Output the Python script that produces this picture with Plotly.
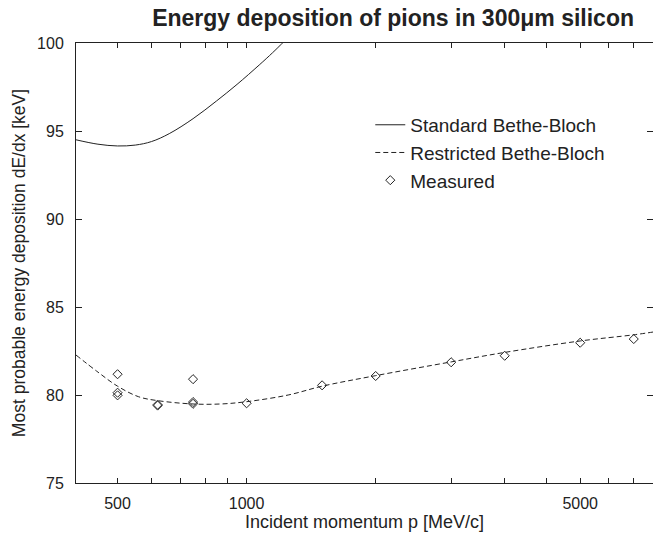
import plotly.graph_objects as go

# Standard Bethe-Bloch (solid)
p_std = [400, 450, 500, 550, 600, 660, 750, 850, 950, 1070, 1150, 1230]
de_std = [94.5, 94.25, 94.15, 94.2, 94.4, 94.85, 95.7, 96.7, 97.65, 98.75, 99.45, 100.15]

# Restricted Bethe-Bloch (dashed)
p_res = [400, 450, 500, 560, 620, 750, 870, 1000, 1250, 1500, 2000, 3000, 4000, 6000, 8000, 9000]
de_res = [82.27, 81.3, 80.5, 79.9, 79.68, 79.49, 79.49, 79.62, 80.0, 80.5, 81.1, 81.88, 82.42, 83.07, 83.42, 83.6]

# Measured points
p_meas = [500, 500, 500, 620, 620, 750, 750, 750, 1000, 1500, 2000, 3000, 4000, 6000, 8000]
de_meas = [81.18, 80.13, 79.98, 79.45, 79.40, 80.9, 79.6, 79.5, 79.53, 80.55, 81.08, 81.86, 82.23, 82.97, 83.18]

# Axis ticks
x_tickvals = [500, 600, 700, 800, 900, 1000, 2000, 3000, 4000, 5000, 6000, 7000, 8000]
x_ticktext = ['500', '', '', '', '', '1000', '', '', '', '', '5000', '', '']
y_tickvals = [75, 80, 85, 90, 95, 100]

FONT = "Liberation Sans, Arial, sans-serif"
INK = "#222"

fig = go.Figure()
fig.add_trace(go.Scatter(x=p_std, y=de_std, mode="lines", name="Standard Bethe-Bloch",
                         line=dict(color=INK, width=1, shape="spline", smoothing=1.0), legendgroup="a"))
fig.add_trace(go.Scatter(x=p_res, y=de_res, mode="lines", name="Restricted Bethe-Bloch",
                         line=dict(color=INK, width=1, dash="5px,3px", shape="spline"), legendgroup="b"))
fig.add_trace(go.Scatter(x=p_meas, y=de_meas, mode="markers", name="Measured",
                         marker=dict(symbol="diamond-open", size=7, color=INK, line=dict(width=1, color=INK)),
                         legendgroup="c"))

fig.update_layout(
    width=653, height=533,
    margin=dict(l=76, r=0, t=43, b=50),
    paper_bgcolor="white", plot_bgcolor="white",
    font=dict(family=FONT, color=INK, size=16),
    title=dict(text="Energy deposition of pions in 300μm silicon",
               font=dict(family=FONT, size=23, weight="bold", color=INK),
               x=0.602, xanchor="center", y=0.966, yanchor="middle"),
    showlegend=True,
    legend=dict(x=0.51, xanchor="left", y=0.857, yanchor="top",
                font=dict(family=FONT, size=19, color=INK),
                bgcolor="rgba(0,0,0,0)", tracegroupgap=8, traceorder="normal"),
    xaxis=dict(type="log", range=[2.602, 3.948],
               tickmode="array", tickvals=x_tickvals, ticktext=x_ticktext,
               ticks="inside", ticklen=5, tickwidth=1, tickcolor=INK,
               showline=True, linecolor=INK, linewidth=1, mirror="ticks",
               showgrid=False, zeroline=False,
               tickfont=dict(size=16), ticklabelstandoff=6,
               title=dict(text="Incident momentum p [MeV/c]", font=dict(size=18), standoff=2)),
    yaxis=dict(range=[75, 100], tickvals=y_tickvals,
               ticks="inside", ticklen=6, tickwidth=1, tickcolor=INK,
               showline=True, linecolor=INK, linewidth=1, mirror="ticks",
               showgrid=False, zeroline=False,
               tickfont=dict(size=16), ticklabelstandoff=8,
               title=dict(text="Most probable energy deposition dE/dx [keV]", font=dict(size=17.5), standoff=6)),
)

fig.write_html("out.html")
